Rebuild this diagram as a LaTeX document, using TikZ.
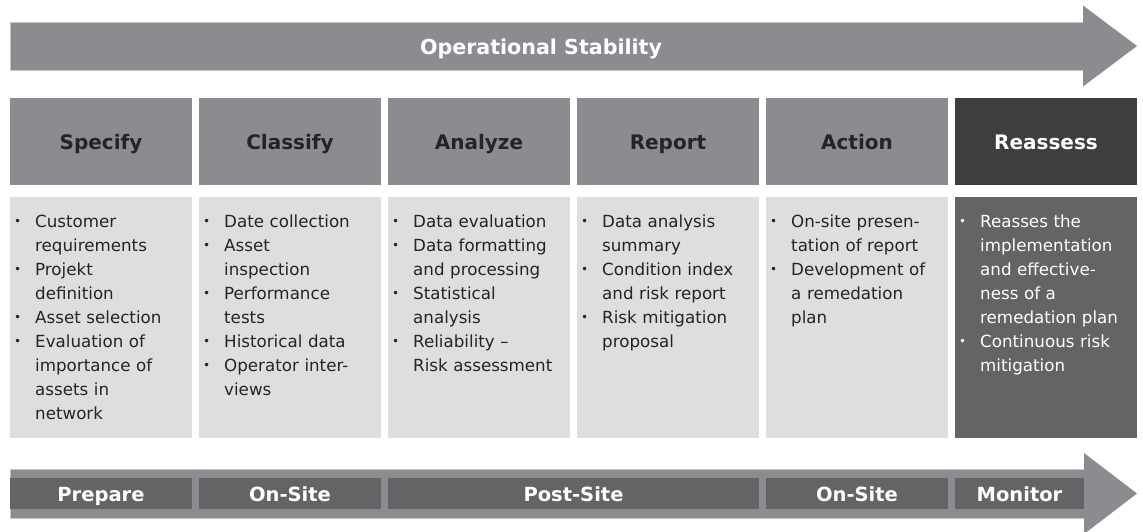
\documentclass[tikz,border=0pt]{standalone}
\usepackage{fontspec}
\setmainfont{DejaVu Sans}
\usetikzlibrary{positioning}
\definecolor{shaftgray}{HTML}{8B8C90}
\definecolor{shaftline}{HTML}{C4C5C7}
\definecolor{lightbox}{HTML}{DDDEE0}
\definecolor{midbox}{HTML}{646466}
\definecolor{darkbox}{HTML}{3E3E3F}
\definecolor{inktext}{HTML}{242424}
\newcommand{\headfont}{\fontsize{20}{24}\bfseries\selectfont}
\newcommand{\listfont}{\fontsize{16.7}{24}\selectfont}
% one bullet line of a list
\newcommand{\itm}{\par\hangindent=20pt\hangafter=1\noindent\strut
  \makebox[20pt][l]{\hspace{-1pt}\raisebox{1.5pt}{\fontsize{12}{12}\selectfont\textbullet}}}
\tikzset{
headbox/.style={fill=shaftgray, text=inktext, font=\headfont, minimum width=182pt,
  minimum height=87pt, inner sep=0pt, outer sep=0pt,
  text height=16pt, text depth=0pt}, % the six step titles
darkhead/.style={fill=darkbox, text=white}, % last title is darker
listbox/.style={fill=lightbox, minimum width=182pt, minimum height=241pt,
  inner sep=0pt, outer sep=0pt}, % grey box under each title
listtext/.style={anchor=north west, text width=176pt, inner sep=0pt,
  font=\listfont, text=inktext}, % the bullet lines
phasebox/.style={fill=midbox, text=white, font=\fontsize{19.5}{24}\bfseries\selectfont,
  minimum height=31pt, inner sep=0pt, outer sep=0pt,
  text height=16pt, text depth=0pt}, % boxes on the lower arrow
}
\begin{document}
\begin{tikzpicture}[x=1pt,y=1pt]
\useasboundingbox (0,0) rectangle (1143,-531);

% upper arrow
\fill[shaftgray] (10,-22) -- (1083,-22) -- (1083,-5.5) -- (1137,-46)
  -- (1083,-86.5) -- (1083,-70) -- (10,-70) -- cycle;
\draw[shaftline, line width=0.8pt] (1083,-22) -- (10,-22) -- (10,-70) -- (1083,-70);
\node[text=white, font=\fontsize{20.6}{24}\bfseries\selectfont, text height=16pt,
  text depth=0pt] (stab) at (541,-46) {Operational Stability};

% step titles
\node[headbox, anchor=north west] (spec) at (10,-98) {Specify};
\node[headbox, right=7pt of spec] (class) {Classify};
\node[headbox, right=7pt of class] (anal) {Analyze};
\node[headbox, right=7pt of anal] (rep) {Report};
\node[headbox, right=7pt of rep] (act) {Action};
\node[headbox, darkhead, right=7pt of act] (reass) {Reassess};

% boxes under the titles
\node[listbox, below=12pt of spec] (spec-box) {};
\node[listbox, below=12pt of class] (class-box) {};
\node[listbox, below=12pt of anal] (anal-box) {};
\node[listbox, below=12pt of rep] (rep-box) {};
\node[listbox, below=12pt of act] (act-box) {};
\node[listbox, fill=midbox, below=12pt of reass] (reass-box) {};

\node[listtext] (spec-list) at ([shift={(5pt,-6pt)}]spec-box.north west) {%
\itm Customer\newline requirements
\itm Projekt\newline definition
\itm Asset selection
\itm Evaluation of\newline importance of\newline assets in\newline network\par};
\node[listtext] (class-list) at ([shift={(5pt,-6pt)}]class-box.north west) {%
\itm Date collection
\itm Asset\newline inspection
\itm Performance\newline tests
\itm Historical data
\itm Operator inter-\newline views\par};
\node[listtext] (anal-list) at ([shift={(5pt,-6pt)}]anal-box.north west) {%
\itm Data evaluation
\itm Data formatting\newline and processing
\itm Statistical\newline analysis
\itm Reliability –\newline Risk assessment\par};
\node[listtext] (rep-list) at ([shift={(5pt,-6pt)}]rep-box.north west) {%
\itm Data analysis\newline summary
\itm Condition index\newline and risk report
\itm Risk mitigation\newline proposal\par};
\node[listtext] (act-list) at ([shift={(5pt,-6pt)}]act-box.north west) {%
\itm On-site presen-\newline tation of report
\itm Development of\newline a remedation\newline plan\par};
\node[listtext, text=white] (reass-list) at ([shift={(5pt,-6pt)}]reass-box.north west) {%
\itm Reasses the\newline implementation\newline and effective-\newline ness of a\newline remedation plan
\itm Continuous risk\newline mitigation\par};

% lower arrow
\fill[shaftgray] (10,-469) -- (1084,-469) -- (1084,-453) -- (1137,-493.5)
  -- (1084,-534) -- (1084,-518) -- (10,-518) -- cycle;
\draw[shaftline, line width=0.8pt] (1084,-469) -- (10,-469) -- (10,-518) -- (1084,-518);

% phases
\node[phasebox, minimum width=182pt, anchor=west] (prep) at (10,-493.5) {Prepare};
\node[phasebox, minimum width=182pt, right=7pt of prep] (onsite) {On-Site};
\node[phasebox, minimum width=371pt, right=7pt of onsite] (post) {Post-Site};
\node[phasebox, minimum width=182pt, right=7pt of post] (onsite2) {On-Site};
\node[phasebox, minimum width=129pt, right=7pt of onsite2] (mon) {Monitor};
\end{tikzpicture}
\end{document}
